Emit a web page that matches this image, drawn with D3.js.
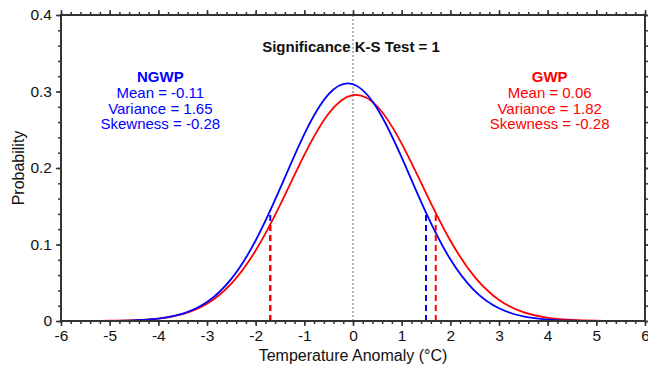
<!DOCTYPE html>
<html>
<head>
<meta charset="utf-8">
<script src="https://cdn.jsdelivr.net/npm/d3@7"></script>
<style>
  body { margin: 0; background: #fff; }
  svg text { font-family: "Liberation Sans", Arial, sans-serif; }
  .axis path, .axis line { stroke: #333; }
</style>
</head>
<body>
<div id="chart"></div>
<script>
// temperature anomaly grid (°C)
var tempX = [-6, -5.5, -5, -4.5, -4, -3.5, -3, -2.5, -2, -1.5, -1, -0.5, 0,
             0.5, 1, 1.5, 2, 2.5, 3, 3.5, 4, 4.5, 5, 5.5, 6];
// probability
var ngwpProb = [0.0000, 0.0000, 0.0002, 0.0009, 0.0032, 0.0095, 0.0247, 0.0550, 0.1052, 0.1729, 0.2443, 0.2966, 0.3095,
                0.2775, 0.2138, 0.1416, 0.0806, 0.0394, 0.0166, 0.0060, 0.0019, 0.0005, 0.0001, 0.0000, 0.0000];
var gwpProb  = [0.0000, 0.0001, 0.0003, 0.0010, 0.0032, 0.0091, 0.0226, 0.0489, 0.0921, 0.1515, 0.2172, 0.2713, 0.2954,
                0.2804, 0.2319, 0.1673, 0.1052, 0.0576, 0.0275, 0.0115, 0.0042, 0.0013, 0.0004, 0.0001, 0.0000];
// dashed cut-off lines
var ngwpCutX = [-1.7, 1.5];
var ngwpCutP = [0.1444, 0.1416];
var gwpCutX  = [-1.7, 1.7];
var gwpCutP  = [0.1262, 0.1413];

var xTicks = [-6, -5, -4, -3, -2, -1, 0, 1, 2, 3, 4, 5, 6];
var yTicks = [0, 0.1, 0.2, 0.3, 0.4];
var yTickLabels = ["0", "0.1", "0.2", "0.3", "0.4"];
var ngwpText = ["NGWP", "Mean = -0.11", "Variance = 1.65", "Skewness = -0.28"];
var gwpText  = ["GWP", "Mean = 0.06", "Variance = 1.82", "Skewness = -0.28"];
var title = "Significance K-S Test = 1";

var margin = {top: 15, right: 3, bottom: 47, left: 61},
    width  = 648 - margin.left - margin.right,
    height = 368 - margin.top - margin.bottom;

var blue = "#0000ff", red = "#ff0000";

var svg = d3.select("#chart").append("svg")
    .attr("width", 648).attr("height", 368);

var g = svg.append("g")
    .attr("transform", "translate(" + margin.left + "," + margin.top + ")");

var x = d3.scaleLinear().domain([-6, 6]).range([0, width]);
var y = d3.scaleLinear().domain([0, 0.4]).range([height, 0]);

var minorX = d3.range(-6, 6.001, 0.2);
var minorY = d3.range(0, 0.4001, 0.02);

function styleAxis(sel) {
  sel.attr("class", "axis");
  sel.select(".domain").remove();
  sel.selectAll("line").attr("stroke", "#333").attr("stroke-width", 1.5);
  sel.selectAll("text").attr("fill", "#111").style("font-size", "15.5px");
}

// minor ticks
g.append("g").attr("transform", "translate(0," + height + ")")
  .call(d3.axisBottom(x).tickValues(minorX).tickSize(3).tickFormat("")).call(styleAxis);
g.append("g")
  .call(d3.axisTop(x).tickValues(minorX).tickSize(3).tickFormat("")).call(styleAxis);
g.append("g")
  .call(d3.axisLeft(y).tickValues(minorY).tickSize(3).tickFormat("")).call(styleAxis);
g.append("g").attr("transform", "translate(" + width + ",0)")
  .call(d3.axisRight(y).tickValues(minorY).tickSize(3).tickFormat("")).call(styleAxis);

// major ticks
g.append("g").attr("transform", "translate(0," + height + ")")
  .call(d3.axisBottom(x).tickValues(xTicks).tickSize(5).tickPadding(4)
        .tickFormat(function(d) { return String(d); }))
  .call(styleAxis);
g.append("g")
  .call(d3.axisTop(x).tickValues(xTicks).tickSize(5).tickFormat("")).call(styleAxis);
g.append("g")
  .call(d3.axisLeft(y).tickValues(yTicks).tickSize(5).tickPadding(4)
        .tickFormat(function(d, i) { return yTickLabels[i]; }))
  .call(styleAxis);
g.append("g").attr("transform", "translate(" + width + ",0)")
  .call(d3.axisRight(y).tickValues(yTicks).tickSize(5).tickFormat("")).call(styleAxis);

// zero line
g.append("line")
  .attr("x1", x(0)).attr("x2", x(0)).attr("y1", 0).attr("y2", height)
  .attr("stroke", "#444").attr("stroke-width", 0.8).attr("stroke-dasharray", "2,2");

// curves
var line = d3.line()
  .x(function(d, i) { return x(tempX[i]); })
  .y(function(d) { return y(d); })
  .curve(d3.curveNatural);

g.append("path").datum(gwpProb)
  .attr("fill", "none").attr("stroke", red).attr("stroke-width", 1.8).attr("d", line);
g.append("path").datum(ngwpProb)
  .attr("fill", "none").attr("stroke", blue).attr("stroke-width", 1.8).attr("d", line);

// dashed cut lines
function cuts(xs, ps, color) {
  g.selectAll(null).data(xs).enter().append("line")
    .attr("x1", function(d) { return x(d); })
    .attr("x2", function(d) { return x(d); })
    .attr("y1", y(0))
    .attr("y2", function(d, i) { return y(ps[i]); })
    .attr("stroke", color).attr("stroke-width", 2)
    .attr("stroke-dasharray", "6,4");
}
cuts(ngwpCutX, ngwpCutP, blue);
cuts(gwpCutX, gwpCutP, red);

// frame
g.append("rect")
  .attr("width", width).attr("height", height)
  .attr("fill", "none").attr("stroke", "#333").attr("stroke-width", 2);

// texts
g.append("text")
  .attr("x", x(0) - 2).attr("y", 37)
  .attr("text-anchor", "middle")
  .style("font-size", "15px").style("font-weight", "bold").attr("fill", "#111")
  .text(title);

function block(lines, cx, color) {
  g.selectAll(null).data(lines).enter().append("text")
    .attr("x", cx)
    .attr("y", function(d, i) { return 67 + i * 15.8; })
    .attr("text-anchor", "middle")
    .attr("fill", color)
    .style("font-size", "15px")
    .style("font-weight", function(d, i) { return i === 0 ? "bold" : "normal"; })
    .text(function(d) { return d; });
}
block(ngwpText, x(-4) + 2, blue);
block(gwpText, x(4) + 2, red);

// axis titles
g.append("text")
  .attr("x", width / 2).attr("y", height + 40)
  .attr("text-anchor", "middle")
  .style("font-size", "16px").attr("fill", "#111")
  .text("Temperature Anomaly (°C)");

g.append("text")
  .attr("transform", "translate(" + (-37) + "," + (height / 2) + ")rotate(-90)")
  .attr("text-anchor", "middle")
  .style("font-size", "16px").attr("fill", "#111")
  .text("Probability");
</script>
</body>
</html>
